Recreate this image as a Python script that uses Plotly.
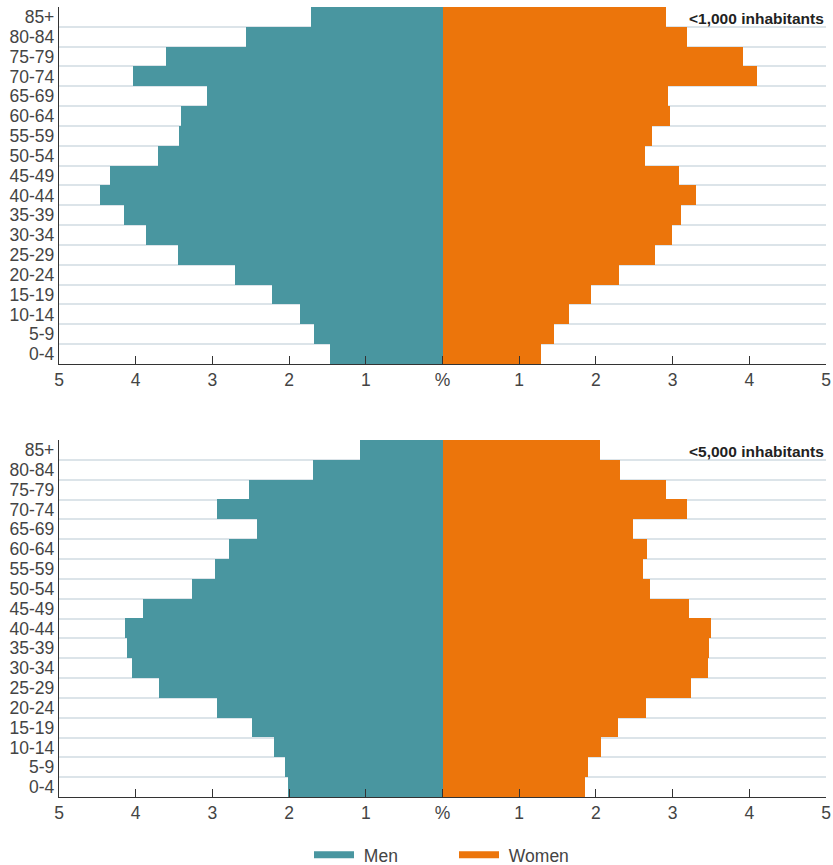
import plotly.graph_objects as go
from plotly.subplots import make_subplots

age_groups = ["0-4", "5-9", "10-14", "15-19", "20-24", "25-29", "30-34", "35-39",
              "40-44", "45-49", "50-54", "55-59", "60-64", "65-69", "70-74",
              "75-79", "80-84", "85+"]

# values listed from 0-4 up to 85+ (percent of population)
men_1000 = [1.47, 1.67, 1.86, 2.22, 2.71, 3.45, 3.87, 4.15, 4.46, 4.34, 3.71,
            3.44, 3.41, 3.07, 4.04, 3.61, 2.56, 1.71]
women_1000 = [1.29, 1.45, 1.65, 1.93, 2.30, 2.77, 2.99, 3.11, 3.30, 3.08, 2.64,
              2.73, 2.96, 2.94, 4.10, 3.92, 3.19, 2.92]
men_5000 = [2.02, 2.05, 2.20, 2.49, 2.94, 3.69, 4.05, 4.11, 4.14, 3.90, 3.26,
            2.97, 2.78, 2.42, 2.94, 2.52, 1.69, 1.08]
women_5000 = [1.86, 1.90, 2.06, 2.29, 2.65, 3.24, 3.46, 3.47, 3.50, 3.21, 2.70,
              2.62, 2.66, 2.48, 3.19, 2.92, 2.31, 2.05]

panel_labels = ["<1,000 inhabitants", "<5,000 inhabitants"]
x_tickvals = [-5, -4, -3, -2, -1, 0, 1, 2, 3, 4, 5]
x_ticktext = ["5", "4", "3", "2", "1", "%", "1", "2", "3", "4", "5"]

MEN_COLOR = "#4996A0"
WOMEN_COLOR = "#EC750B"
FONT = "Liberation Sans, Arial, sans-serif"

fig = make_subplots(rows=2, cols=1, vertical_spacing=0.0963)

panels = [(men_1000, women_1000), (men_5000, women_5000)]
for i, (men, women) in enumerate(panels, start=1):
    fig.add_trace(go.Bar(
        y=age_groups, x=[-v for v in men], orientation="h",
        marker=dict(color=MEN_COLOR, line=dict(width=0)),
        showlegend=False, hoverinfo="skip"), row=i, col=1)
    fig.add_trace(go.Bar(
        y=age_groups, x=women, orientation="h",
        marker=dict(color=WOMEN_COLOR, line=dict(width=0)),
        showlegend=False, hoverinfo="skip"), row=i, col=1)

# legend entries
fig.add_trace(go.Scatter(x=[None], y=[None], mode="lines", name=" Men",
                         line=dict(color=MEN_COLOR, width=7)), row=1, col=1)
fig.add_trace(go.Scatter(x=[None], y=[None], mode="lines", name=" Women",
                         line=dict(color=WOMEN_COLOR, width=7)), row=1, col=1)

for i in (1, 2):
    fig.update_xaxes(range=[-5, 5], tickmode="array", tickvals=x_tickvals, ticktext=x_ticktext,
                     ticks="inside", ticklen=8, tickwidth=1.3, tickcolor="#333",
                     showline=True, linecolor="#333", linewidth=1.3,
                     showgrid=False, zeroline=False, automargin=False,
                     ticklabeloverflow="allow",
                     tickfont=dict(size=17.5, color="#444", family=FONT),
                     row=i, col=1)
    fig.update_yaxes(type="category", categoryorder="array", categoryarray=age_groups,
                     tickmode="array", tickvals=age_groups,
                     range=[-0.5, 17.5], tickson="boundaries", ticks="",
                     showgrid=True, gridcolor="#DCE4E9", gridwidth=1.6,
                     showline=True, linecolor="#333", linewidth=1.3,
                     zeroline=False, automargin=False,
                     tickfont=dict(size=17.5, color="#444", family=FONT),
                     row=i, col=1)

fig.update_layout(
    width=833, height=865,
    margin=dict(l=59, r=7, t=7, b=68, autoexpand=False),
    plot_bgcolor="white", paper_bgcolor="white",
    barmode="relative", bargap=0,
    font=dict(family=FONT, color="#444"),
    legend=dict(orientation="h", x=0.515, xanchor="center", y=-0.0734, yanchor="middle",
                font=dict(size=17.5, color="#444", family=FONT),
                itemwidth=40, tracegroupgap=0, entrywidth=90),
    annotations=[
        dict(text=f"<b>{panel_labels[0]}</b>", xref="x domain", yref="y domain",
             x=1, y=0.997, xanchor="right", yanchor="top", showarrow=False,
             font=dict(size=15.5, color="#222", family=FONT)),
        dict(text=f"<b>{panel_labels[1]}</b>", xref="x2 domain", yref="y2 domain",
             x=1, y=0.997, xanchor="right", yanchor="top", showarrow=False,
             font=dict(size=15.5, color="#222", family=FONT)),
    ],
)

fig.write_html("out.html",
               config={"displayModeBar": False},
               post_script="document.body.style.margin='0';document.body.style.overflow='hidden';")
